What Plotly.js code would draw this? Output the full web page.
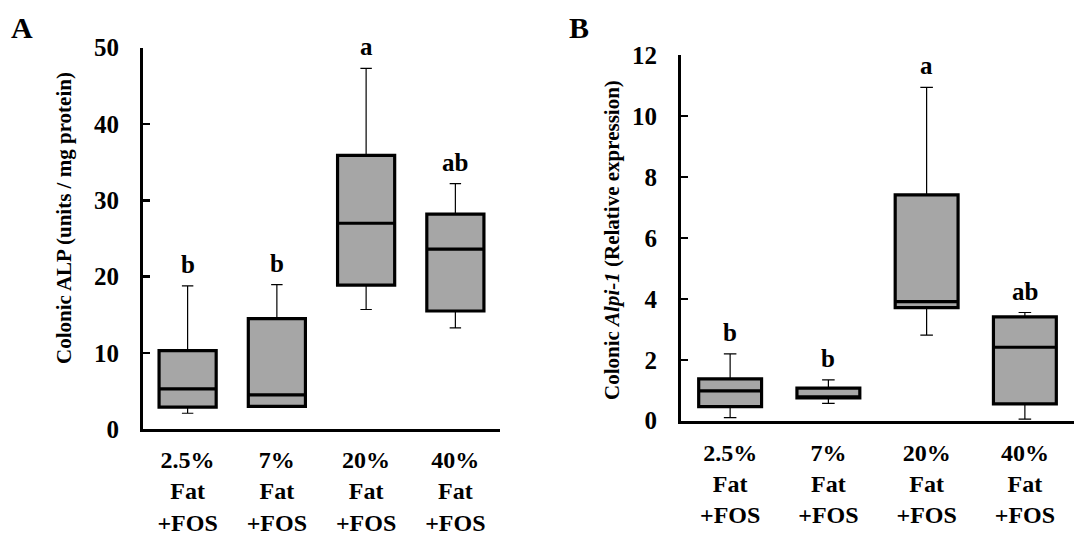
<!DOCTYPE html>
<html>
<head>
<meta charset="utf-8">
<script src="https://cdn.plot.ly/plotly-3.0.1.min.js"></script>
<style>html,body{margin:0;padding:0;background:#fff;}#chart{width:1078px;height:535px;}</style>
</head>
<body>
<div id="chart"></div>
<script>
// Categories (x tick labels)
const categories = ['2.5%<br>Fat<br>+FOS', '7%<br>Fat<br>+FOS', '20%<br>Fat<br>+FOS', '40%<br>Fat<br>+FOS'];

// Panel A: Colonic ALP (units / mg protein)
const alpLow  = [2.1, 3.0, 15.7, 13.3];
const alpQ1   = [2.9, 3.0, 18.9, 15.5];
const alpMed  = [5.3, 4.5, 27.0, 23.6];
const alpQ3   = [10.3, 14.5, 35.9, 28.2];
const alpHigh = [18.8, 18.95, 47.3, 32.2];
const alpLetters = ['b', 'b', 'a', 'ab'];

// Panel B: Colonic Alpi-1 (Relative expression)
const alpiLow  = [0.10, 0.57, 2.81, 0.05];
const alpiQ1   = [0.46, 0.75, 3.71, 0.55];
const alpiMed  = [0.98, 0.77, 3.91, 2.41];
const alpiQ3   = [1.37, 1.07, 7.41, 3.41];
const alpiHigh = [2.19, 1.34, 10.94, 3.55];
const alpiLetters = ['b', 'b', 'a', 'ab'];

const FONT = '"Liberation Serif", "Times New Roman", Times, serif';
const GREY = '#a6a6a6';
const BOXW = 0.64;

function whiskerTrace(low, q1, med, q3, high, xa, ya) {
  return {
    type: 'box', x: categories, q1: q1, median: med, q3: q3,
    lowerfence: low, upperfence: high,
    xaxis: xa, yaxis: ya, width: BOXW, whiskerwidth: 0.2,
    line: {color: '#000', width: 1.2}, fillcolor: 'rgba(0,0,0,0)',
    boxpoints: false, showlegend: false, hoverinfo: 'skip'
  };
}
function boxTrace(q1, med, q3, xa, ya) {
  return {
    type: 'box', x: categories, q1: q1, median: med, q3: q3,
    lowerfence: q1, upperfence: q3,
    xaxis: xa, yaxis: ya, width: BOXW, whiskerwidth: 0,
    line: {color: '#000', width: 3.2}, fillcolor: GREY,
    boxpoints: false, showlegend: false, hoverinfo: 'skip'
  };
}

const data = [
  whiskerTrace(alpLow, alpQ1, alpMed, alpQ3, alpHigh, 'x', 'y'),
  boxTrace(alpQ1, alpMed, alpQ3, 'x', 'y'),
  whiskerTrace(alpiLow, alpiQ1, alpiMed, alpiQ3, alpiHigh, 'x2', 'y2'),
  boxTrace(alpiQ1, alpiMed, alpiQ3, 'x2', 'y2')
];

const tickFont = {family: FONT, size: 25, color: '#000', weight: 'bold'};
const xTickFont = {family: FONT, size: 24, color: '#000', weight: 'bold'};

function xAxis(domain, anchor, standoff) {
  return {
    domain: domain, anchor: anchor, type: 'category',
    categoryorder: 'array', categoryarray: categories,
    range: [-0.5, 3.5], showline: true, linewidth: 3, linecolor: '#000',
    ticks: '', showgrid: false, zeroline: false, automargin: false,
    tickfont: xTickFont, ticklabelstandoff: standoff, fixedrange: true
  };
}
function yAxis(domain, anchor, range, dtick) {
  return {
    domain: domain, anchor: anchor, range: range, dtick: dtick,
    showline: true, linewidth: 3, linecolor: '#000',
    ticks: 'inside', ticklen: 7, tickwidth: 2.5, tickcolor: '#000',
    showgrid: false, zeroline: false, automargin: false,
    tickfont: tickFont, ticklabelstandoff: 16, fixedrange: true
  };
}

const annotations = [];
function letterAnnots(letters, high, xref, yref) {
  letters.forEach((t, i) => {
    annotations.push({
      x: categories[i], y: high[i], xref: xref, yref: yref,
      text: t, showarrow: false, yanchor: 'bottom', yshift: 6,
      font: {family: FONT, size: 25, color: '#000', weight: 'bold'}
    });
  });
}
letterAnnots(alpLetters, alpHigh, 'x', 'y');
letterAnnots(alpiLetters, alpiHigh, 'x2', 'y2');

annotations.push(
  {text: 'A', xref: 'paper', yref: 'paper', x: 22 / 1078, y: 1 - 28 / 535,
   showarrow: false, xanchor: 'center', yanchor: 'middle',
   font: {family: FONT, size: 30, color: '#000', weight: 'bold'}},
  {text: 'B', xref: 'paper', yref: 'paper', x: 579 / 1078, y: 1 - 28 / 535,
   showarrow: false, xanchor: 'center', yanchor: 'middle',
   font: {family: FONT, size: 30, color: '#000', weight: 'bold'}},
  {text: 'Colonic ALP (units / mg protein)', xref: 'paper', yref: 'paper',
   x: 64 / 1078, y: 1 - 218 / 535, textangle: -90, showarrow: false,
   xanchor: 'center', yanchor: 'middle',
   font: {family: FONT, size: 21, color: '#000', weight: 'bold'}},
  {text: 'Colonic <i>Alpi-1</i> (Relative expression)', xref: 'paper', yref: 'paper',
   x: 612 / 1078, y: 1 - 240 / 535, textangle: -90, showarrow: false,
   xanchor: 'center', yanchor: 'middle',
   font: {family: FONT, size: 21, color: '#000', weight: 'bold'}}
);

const layout = {
  width: 1078, height: 535,
  margin: {l: 0, r: 0, t: 0, b: 0},
  paper_bgcolor: '#fff', plot_bgcolor: '#fff',
  showlegend: false, boxmode: 'overlay',
  font: {family: FONT, color: '#000'},
  xaxis: xAxis([143 / 1078, 500 / 1078], 'y', 7),
  yaxis: yAxis([(535 - 429.3) / 535, (535 - 47.7) / 535], 'x', [0, 50], 10),
  xaxis2: xAxis([681 / 1078, 1074 / 1078], 'y2', 8),
  yaxis2: yAxis([(535 - 420.7) / 535, (535 - 55) / 535], 'x2', [0, 12], 2),
  annotations: annotations
};

Plotly.newPlot('chart', data, layout, {displayModeBar: false, staticPlot: true});
</script>
</body>
</html>
